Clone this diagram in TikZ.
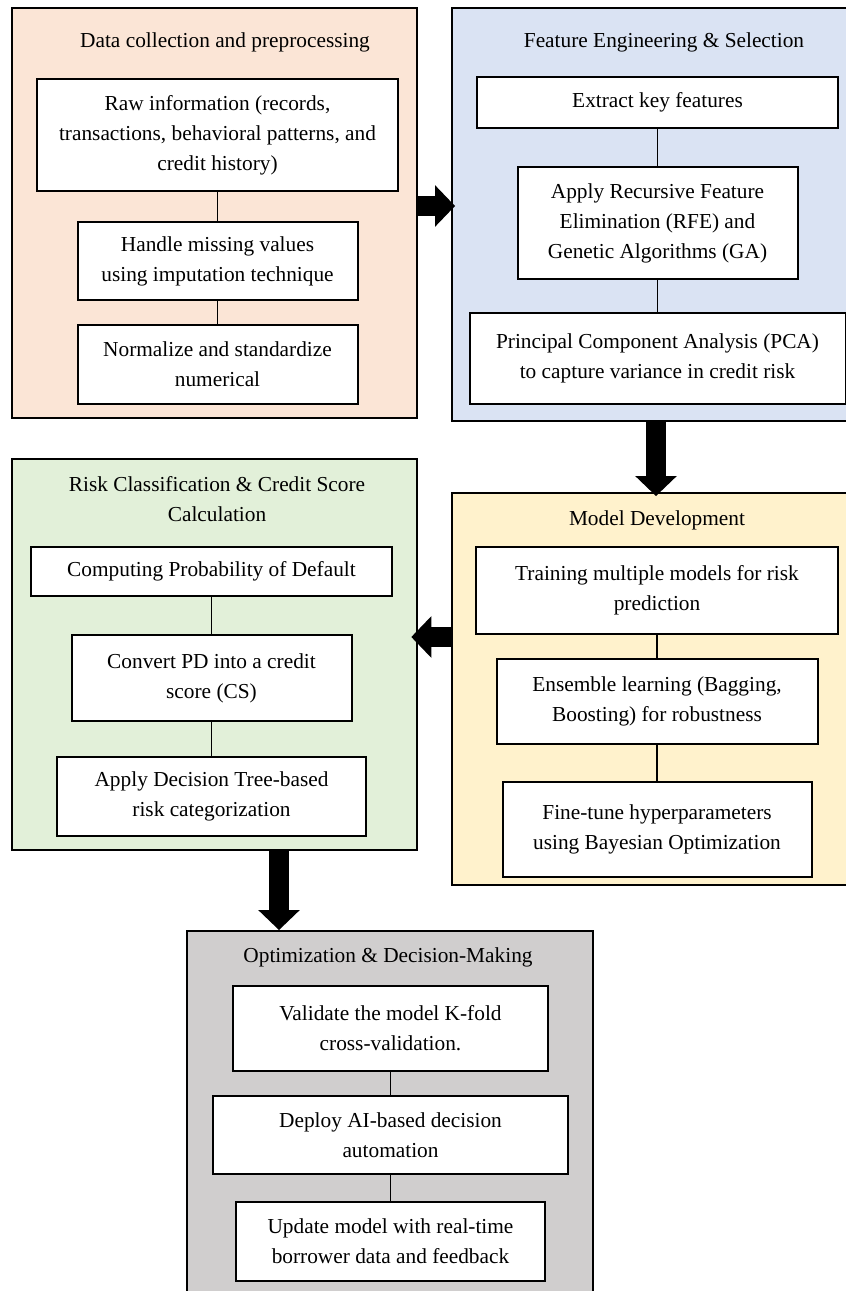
\documentclass[tikz,border=0pt]{standalone}
\usepackage{fontspec}
\setmainfont{Liberation Serif}
\usetikzlibrary{arrows.meta,positioning}
\definecolor{peach}{HTML}{FBE5D6}
\definecolor{paleblue}{HTML}{DAE3F3}
\definecolor{palegreen}{HTML}{E2F0D9}
\definecolor{paleyellow}{HTML}{FFF2CC}
\definecolor{palegray}{HTML}{D0CECE}

\begin{document}
\begin{tikzpicture}[x=0.6pt, y=-0.6pt,
  panel/.style={draw, line width=1.2pt, inner sep=0pt},
  box/.style={draw, fill=white, line width=1.2pt, align=center, inner sep=2pt, font=\fontsize{12.8}{18}\selectfont},
  head/.style={align=center, font=\fontsize{12.8}{18}\selectfont},
  link/.style={line width=1.1pt},
  bigarrow/.style={line width=12pt, -{Triangle[width=25pt, length=12pt, line width=0pt]}}]
  \useasboundingbox (0,0) rectangle (845,1291);
  \node[panel, fill=peach, minimum width=243pt, minimum height=246pt] (data) at (214.5,213) {};
  \node[panel, fill=paleblue, minimum width=244.8pt, minimum height=247.8pt] (feat) at (656,214.5) {};
  \node[panel, fill=paleyellow, minimum width=244.8pt, minimum height=235.2pt] (model) at (656,689) {};
  \node[panel, fill=palegreen, minimum width=243pt, minimum height=234.6pt] (risk) at (214.5,654.5) {};
  \node[panel, fill=palegray, minimum width=243.6pt, minimum height=221.4pt] (optim) at (390,1115.5) {};

  \node[head] (datat) at (225,42) {Data collection and preprocessing};
  \node[box, minimum width=216.6pt, minimum height=67.2pt] (raw) at (217.5,135) {Raw information (records,\\ transactions, behavioral patterns, and\\ credit history)};
  \node[box, below=17.4pt of raw, minimum width=168pt, minimum height=46.8pt] (impute) {Handle missing values\\ using imputation technique};
  \node[box, below=13.8pt of impute, minimum width=168pt, minimum height=47.4pt] (norm) {Normalize and standardize\\ numerical};

  \node[head] (featt) at (664,42) {Feature Engineering \& Selection};
  \node[box, minimum width=216.6pt, minimum height=30.6pt] (extract) at (657.5,102.5) {Extract key features};
  \node[box, below=22.2pt of extract, minimum width=168pt, minimum height=67.2pt] (rfe) {Apply Recursive Feature\\ Elimination (RFE) and\\ Genetic Algorithms (GA)};
  \node[box, below=19.2pt of rfe, minimum width=225.6pt, minimum height=54.6pt] (pca) {Principal Component Analysis (PCA)\\ to capture variance in credit risk};

  \node[head] (modelt) at (657,520) {Model Development};
  \node[box, minimum width=217.2pt, minimum height=52.2pt] (train) at (657,590.5) {Training multiple models for risk\\ prediction};
  \node[box, below=13.8pt of train, minimum width=192.6pt, minimum height=51pt] (ensemble) {Ensemble learning (Bagging,\\ Boosting) for robustness};
  \node[box, below=21.6pt of ensemble, minimum width=185.4pt, minimum height=57pt] (tune) {Fine-tune hyperparameters\\ using Bayesian Optimization};

  \node[head] (riskt) at (217,499) {Risk Classification \& Credit Score\\ Calculation};
  \node[box, minimum width=216.6pt, minimum height=29.4pt] (pd) at (211.5,571.5) {Computing Probability of Default};
  \node[box, below=22.2pt of pd, minimum width=168pt, minimum height=51.6pt] (score) {Convert PD into a credit\\ score (CS)};
  \node[box, below=20.4pt of score, minimum width=185.4pt, minimum height=47.4pt] (tree) {Apply Decision Tree-based\\ risk categorization};

  \node[head] (optimt) at (388,957) {Optimization \& Decision-Making};
  \node[box, minimum width=189pt, minimum height=51pt] (valid) at (390.5,1028.5) {Validate the model K-fold\\ cross-validation.};
  \node[box, below=13.8pt of valid, minimum width=213pt, minimum height=46.8pt] (deploy) {Deploy AI-based decision\\ automation};
  \node[box, below=15.6pt of deploy, minimum width=185.4pt, minimum height=47.4pt] (update) {Update model with real-time\\ borrower data and feedback};

  \draw[link] (raw) -- (impute); \draw[link] (impute) -- (norm);
  \draw[link] (extract) -- (rfe); \draw[link] (rfe) -- (pca);
  \draw[link] (train) -- (ensemble); \draw[link] (ensemble) -- (tune);
  \draw[link] (pd) -- (score); \draw[link] (score) -- (tree);
  \draw[link] (valid) -- (deploy); \draw[link] (deploy) -- (update);

  \draw[bigarrow, shorten >=-2.4pt] ([yshift=4.2pt]data.east) -- ([yshift=4.2pt]data.east -| feat.west);
  \draw[bigarrow, shorten >=-2.4pt] (feat.south) -- (feat.south |- model.north);
  \draw[bigarrow, shorten >=-4pt] ([yshift=31.2pt]model.west) -- ([yshift=31.2pt]model.west -| risk.east);
  \draw[bigarrow] ([xshift=38.7pt]risk.south) -- ([xshift=38.7pt]risk.south |- optim.north);
\end{tikzpicture}
\end{document}
